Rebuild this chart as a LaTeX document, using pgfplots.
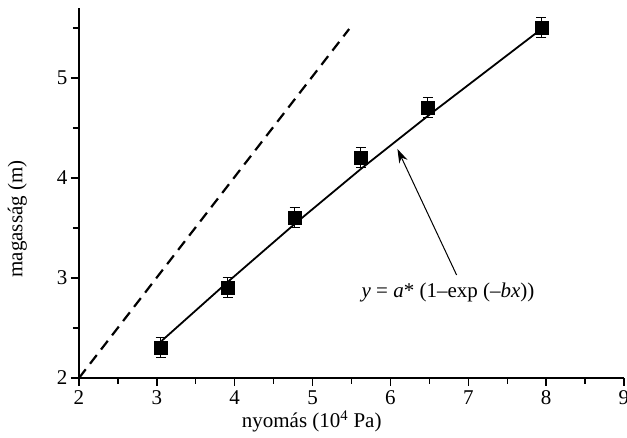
\documentclass[border=0pt]{standalone}
\usepackage{pgfplots}
\pgfplotsset{compat=1.18}
\usepackage{pgfplotstable}
\usepackage{fontspec}
\setmainfont{Liberation Serif}
\usetikzlibrary{calc,arrows.meta}
\pgfplotstableread{
x y ey
3.05 2.30 0.1
3.91 2.90 0.1
4.77 3.60 0.1
5.62 4.20 0.1
6.48 4.70 0.1
7.94 5.50 0.1
}\measured
\pgfplotstableread{
x y
3.06 2.37
3.91 2.96
4.77 3.54
5.62 4.09
6.48 4.62
7.94 5.49
}\fitted
\pgfplotstableread{
x y
2.00 2.00
5.47 5.49
}\ideal
\begin{document}
\begin{tikzpicture}[font=\fontsize{21}{25}\selectfont]
\begin{axis}[
  scale only axis, width=545pt, height=370pt,
  xmin=2, xmax=9, ymin=2, ymax=5.7,
  axis lines*=left,
  axis line style={line width=1.3pt, black},
  xtick={2,...,9}, ytick={2,3,4,5},
  minor xtick={2.5,3.5,...,8.5}, minor ytick={2.5,3.5,4.5,5.5},
  tick align=outside, major tick length=8pt, minor tick length=6pt,
  every tick/.style={line width=1.3pt, black},
  /pgf/number format/assume math mode=true,
  xticklabel style={yshift=-1pt},
  xlabel={nyomás (10\textsuperscript{4} Pa)},
  ylabel={magasság (m)},
  xlabel style={at={(axis description cs:0.427,-0.135)}, anchor=base},
  ylabel style={at={(axis description cs:-0.113,0.43)}, anchor=center},
  clip=false,
]
\coordinate (O) at (rel axis cs:0,0);
\addplot[black, line width=2.2pt, dash pattern=on 11pt off 7pt] table {\ideal};
\addplot[black, line width=1.8pt] table {\fitted};
\addplot[only marks, mark=square*, mark size=6.5pt, black,
  error bars/.cd, y dir=both, y explicit,
  error bar style={line width=1pt, black},
  error mark options={rotate=90, mark size=5pt, line width=1pt, black}]
  table[x=x, y=y, y error=ey] {\measured};
\draw[-{Stealth[length=14pt, width=9pt]}, line width=1pt] (axis cs:6.85,3.03) -- (axis cs:6.09,4.29);
\node at (axis cs:6.74,2.86) {\textit{y} = \textit{a}* (1–exp (–\textit{bx}))};
\end{axis}
\pgfresetboundingbox
\path ($(O)+(-79pt,-60pt)$) rectangle ($(O)+(548pt,378pt)$);
\end{tikzpicture}
\end{document}
